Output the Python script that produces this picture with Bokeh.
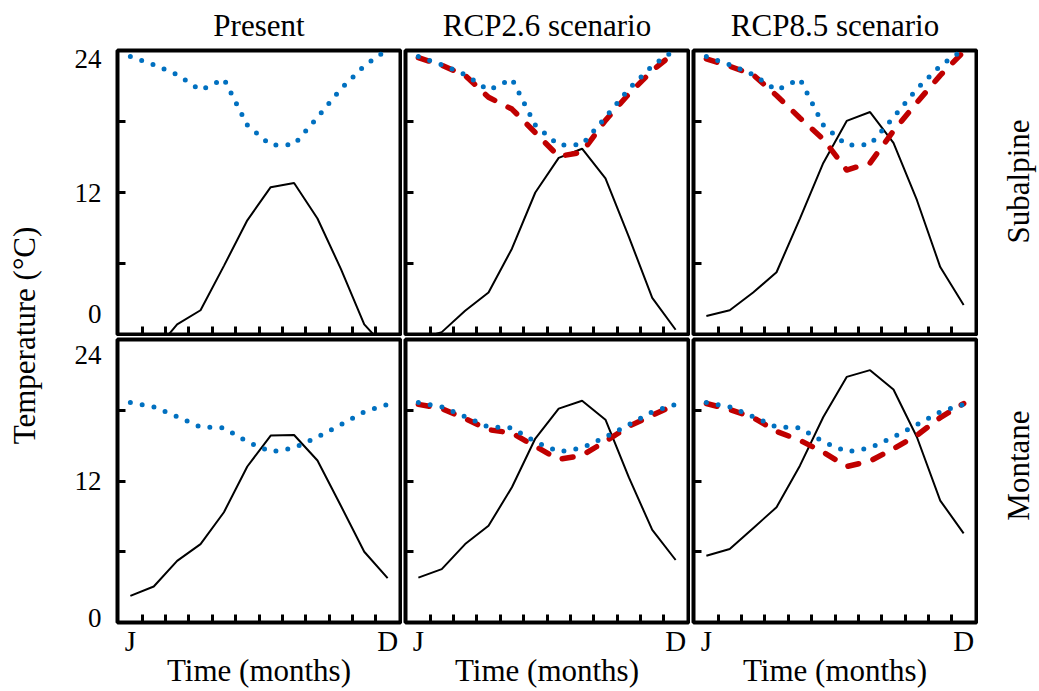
import math
from bokeh.plotting import figure
from bokeh.models import Range1d, FixedTicker, Label, Title
from bokeh.layouts import row, column
from bokeh.embed import file_html
from bokeh.resources import INLINE

# ---------------- data ----------------
months = [1, 2, 3, 4, 5, 6, 7, 8, 9, 10, 11, 12]
month_labels = {1: "J", 12: "D"}
column_titles = ["Present", "RCP2.6 scenario", "RCP8.5 scenario"]
row_titles = ["Subalpine", "Montane"]

# Subalpine (top row)
sub_present_black = [-2.2, -1.5, 0.85, 2.05, 5.8, 9.65, 12.45, 12.8, 9.8, 5.55, 0.85, -1.3]
sub_rcp26_black = [-0.4, 0.2, 2.0, 3.55, 7.25, 12.0, 14.93, 15.7, 13.2, 8.25, 3.1, 0.4]
sub_rcp85_black = [1.56, 2.05, 3.55, 5.26, 9.8, 14.5, 18.05, 18.8, 16.2, 11.37, 5.7, 2.5]
sub_blue = [23.5, 22.8, 21.95, 20.65, 21.6, 17.7, 16.0, 16.05, 18.35, 20.75, 22.7, 24.1]
sub_rcp26_red = [23.4, 22.75, 21.9, 20.05, 19.05, 17.06, 15.05, 15.4, 18.1, 20.33, 22.3, 23.9]
sub_rcp85_red = [23.3, 22.67, 21.95, 20.2, 18.3, 16.5, 13.9, 14.5, 17.2, 19.6, 21.9, 23.9]

# Montane (bottom row)
mon_present_black = [2.26, 3.05, 5.23, 6.65, 9.35, 13.23, 15.85, 15.9, 13.74, 9.9, 6.0, 3.76]
mon_rcp26_black = [3.81, 4.53, 6.65, 8.2, 11.47, 15.6, 18.14, 18.8, 17.2, 12.3, 7.85, 5.3]
mon_rcp85_black = [5.66, 6.23, 8.0, 9.77, 13.3, 17.43, 20.83, 21.4, 19.76, 15.73, 10.34, 7.56]
mon_blue = [18.65, 18.28, 17.46, 16.58, 16.5, 15.33, 14.48, 14.8, 15.73, 16.78, 17.86, 18.5]
mon_rcp26_red = [18.5, 18.14, 17.29, 16.35, 16.07, 14.94, 13.83, 14.17, 15.36, 16.64, 17.57, 18.5]
mon_rcp85_red = [18.57, 18.06, 17.38, 16.21, 15.45, 14.45, 13.23, 13.69, 14.74, 15.87, 17.38, 18.57]

# y tick labels (label anchors sit just inside the frame, as in the original)
y_minor = [6, 12, 18]
top_y_labels = {1.7: "0", 12: "12", 23.3: "24"}
bot_y_labels = {0.42: "0", 12: "12", 22.65: "24"}
x_minor = [1.5, 2.5, 3.5, 4.5, 5.5, 6.5, 7.5, 8.5, 9.5, 10.5, 11.5]

FONT = "Liberation Serif"
BLACK = "#000000"
RED = "#c00000"
BLUE = "#0070c0"


def panel(black, blue, red, col, is_top, title=None):
    left_b = 69 if col == 0 else 3
    right_b = 2
    top_b = 50 if is_top else 3
    bot_b = 2 if is_top else 68
    fh = 284 if is_top else 283
    p = figure(frame_width=283, frame_height=fh,
               x_range=Range1d(0.45, 12.55), y_range=Range1d(0, 24),
               min_border_left=left_b, min_border_right=right_b,
               min_border_top=top_b, min_border_bottom=bot_b,
               toolbar_location=None, output_backend="svg",
               background_fill_color="white", border_fill_color="white")
    if title is not None:
        p.title = Title(text=title, align="center", vertical_align="top",
                        text_font=FONT, text_font_size="31px",
                        text_font_style="normal", text_color="black", standoff=12)
    p.xgrid.visible = False
    p.ygrid.visible = False
    p.outline_line_color = "black"
    p.outline_line_width = 4
    p.outline_line_alpha = 1.0

    # x axis
    xa = p.xaxis[0]
    xa.axis_line_color = None
    xa.major_tick_in = 0
    xa.major_tick_out = 0
    xa.minor_tick_in = 8
    xa.minor_tick_out = 0
    xa.minor_tick_line_width = 3
    xa.minor_tick_line_color = "black"
    if is_top:
        xa.ticker = FixedTicker(ticks=[], minor_ticks=x_minor)
        xa.major_label_standoff = 0
    else:
        xa.ticker = FixedTicker(ticks=[1, 12], minor_ticks=x_minor)
        xa.major_label_overrides = month_labels
        xa.major_label_text_font = FONT
        xa.major_label_text_font_size = "29px"
        xa.major_label_text_color = "black"
        xa.major_label_standoff = 2
        xa.axis_label = "Time (months)"
        xa.axis_label_text_font = FONT
        xa.axis_label_text_font_size = "31px"
        xa.axis_label_text_font_style = "normal"
        xa.axis_label_text_color = "black"
        xa.axis_label_standoff = -7

    # y axis
    ya = p.yaxis[0]
    ya.axis_line_color = None
    ya.major_tick_in = 0
    ya.major_tick_out = 0
    ya.minor_tick_in = 8
    ya.minor_tick_out = 0
    ya.minor_tick_line_width = 3
    ya.minor_tick_line_color = "black"
    if col == 0:
        labels = top_y_labels if is_top else bot_y_labels
        ya.ticker = FixedTicker(ticks=list(labels.keys()), minor_ticks=y_minor)
        ya.major_label_overrides = labels
        ya.major_label_text_font = FONT
        ya.major_label_text_font_size = "27px"
        ya.major_label_text_color = "black"
        ya.major_label_standoff = 16
    else:
        ya.ticker = FixedTicker(ticks=[], minor_ticks=y_minor)
        ya.major_label_standoff = 0

    p.line(months, black, line_color=BLACK, line_width=2)
    if red is not None:
        p.line(months, red, line_color=RED, line_width=5.5,
               line_dash="11 15", line_cap="round", line_join="round")
    p.line(months, blue, line_color=BLUE, line_width=5,
           line_dash="0 12", line_cap="round", line_join="round")
    return p


top = [
    panel(sub_present_black, sub_blue, None, 0, True, column_titles[0]),
    panel(sub_rcp26_black, sub_blue, sub_rcp26_red, 1, True, column_titles[1]),
    panel(sub_rcp85_black, sub_blue, sub_rcp85_red, 2, True, column_titles[2]),
]
bottom = [
    panel(mon_present_black, mon_blue, None, 0, False),
    panel(mon_rcp26_black, mon_blue, mon_rcp26_red, 1, False),
    panel(mon_rcp85_black, mon_blue, mon_rcp85_red, 2, False),
]

TOTAL_H = 690


def label_fig(width):
    f = figure(width=width, height=TOTAL_H, x_range=Range1d(0, 1), y_range=Range1d(0, 1),
               min_border=0, toolbar_location=None, output_backend="svg",
               background_fill_color="white", border_fill_color="white")
    f.xaxis.visible = False
    f.yaxis.visible = False
    f.xgrid.visible = False
    f.ygrid.visible = False
    f.outline_line_color = None
    return f


left = label_fig(48)
left.add_layout(Label(x=0.5, y=0.5145, text="Temperature (°C)", angle=math.pi / 2,
                      text_align="center", text_baseline="middle",
                      text_font=FONT, text_font_size="31px", text_color="black"))

right = label_fig(61)
right.add_layout(Label(x=0.656, y=0.7377, text=row_titles[0], angle=math.pi / 2,
                       text_align="center", text_baseline="middle",
                       text_font=FONT, text_font_size="31px", text_color="black"))
right.add_layout(Label(x=0.656, y=0.326, text=row_titles[1], angle=math.pi / 2,
                       text_align="center", text_baseline="middle",
                       text_font=FONT, text_font_size="31px", text_color="black"))

grid = column(row(*top), row(*bottom))
layout = row(left, grid, right)

open("out.html", "w").write(file_html(layout, INLINE))
